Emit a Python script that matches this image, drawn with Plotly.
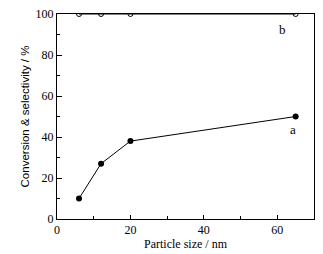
import plotly.graph_objects as go

particle_size = [6, 12, 20, 65]
conversion = [10, 27, 38, 50]
selectivity = [100, 100, 100, 100]

fig = go.Figure()
fig.add_trace(go.Scatter(x=particle_size, y=selectivity, mode="lines+markers",
                         line=dict(color="black", width=1),
                         marker=dict(symbol="circle-open", size=5, color="black", line=dict(width=1)),
                         cliponaxis=True, showlegend=False))
fig.add_trace(go.Scatter(x=particle_size, y=conversion, mode="lines+markers",
                         line=dict(color="black", width=1),
                         marker=dict(symbol="circle", size=6, color="black"),
                         cliponaxis=False, showlegend=False))

fig.add_annotation(x=64.3, y=43.5, text="a", showarrow=False,
                   font=dict(family="Liberation Serif", size=13, color="black"))
fig.add_annotation(x=61.5, y=92.5, text="b", showarrow=False,
                   font=dict(family="Liberation Serif", size=13, color="black"))

# page body has an 8px margin, so the figure is shifted by 8px
fig.update_layout(
    width=315, height=246,
    margin=dict(l=49, r=9, t=6, b=35, autoexpand=False),
    paper_bgcolor="white", plot_bgcolor="white",
    font=dict(family="Liberation Serif", size=12, color="black"),
)
fig.update_xaxes(range=[0, 70], tickvals=[0, 20, 40, 60], showgrid=False, zeroline=False,
                 showline=True, linecolor="black", linewidth=1, mirror=True, automargin=False,
                 ticks="inside", ticklen=4, tickcolor="black", ticklabeloverflow="allow",
                 minor=dict(tickvals=[10, 30, 50], ticks="inside", ticklen=3, tickcolor="black"),
                 title=dict(text="Particle size / nm", standoff=3,
                            font=dict(family="Liberation Serif", size=12)))
fig.update_yaxes(range=[0, 100], tickvals=[0, 20, 40, 60, 80, 100], showgrid=False, zeroline=False,
                 showline=True, linecolor="black", linewidth=1, mirror=True, automargin=False,
                 ticks="inside", ticklen=5, tickcolor="black", ticklabeloverflow="allow",
                 minor=dict(tickvals=[10, 30, 50, 70, 90], ticks="inside", ticklen=3, tickcolor="black"),
                 title=dict(text="Conversion & selectivity / %", standoff=3,
                            font=dict(family="Liberation Sans", size=11.5)))

fig.write_html("out.html")
